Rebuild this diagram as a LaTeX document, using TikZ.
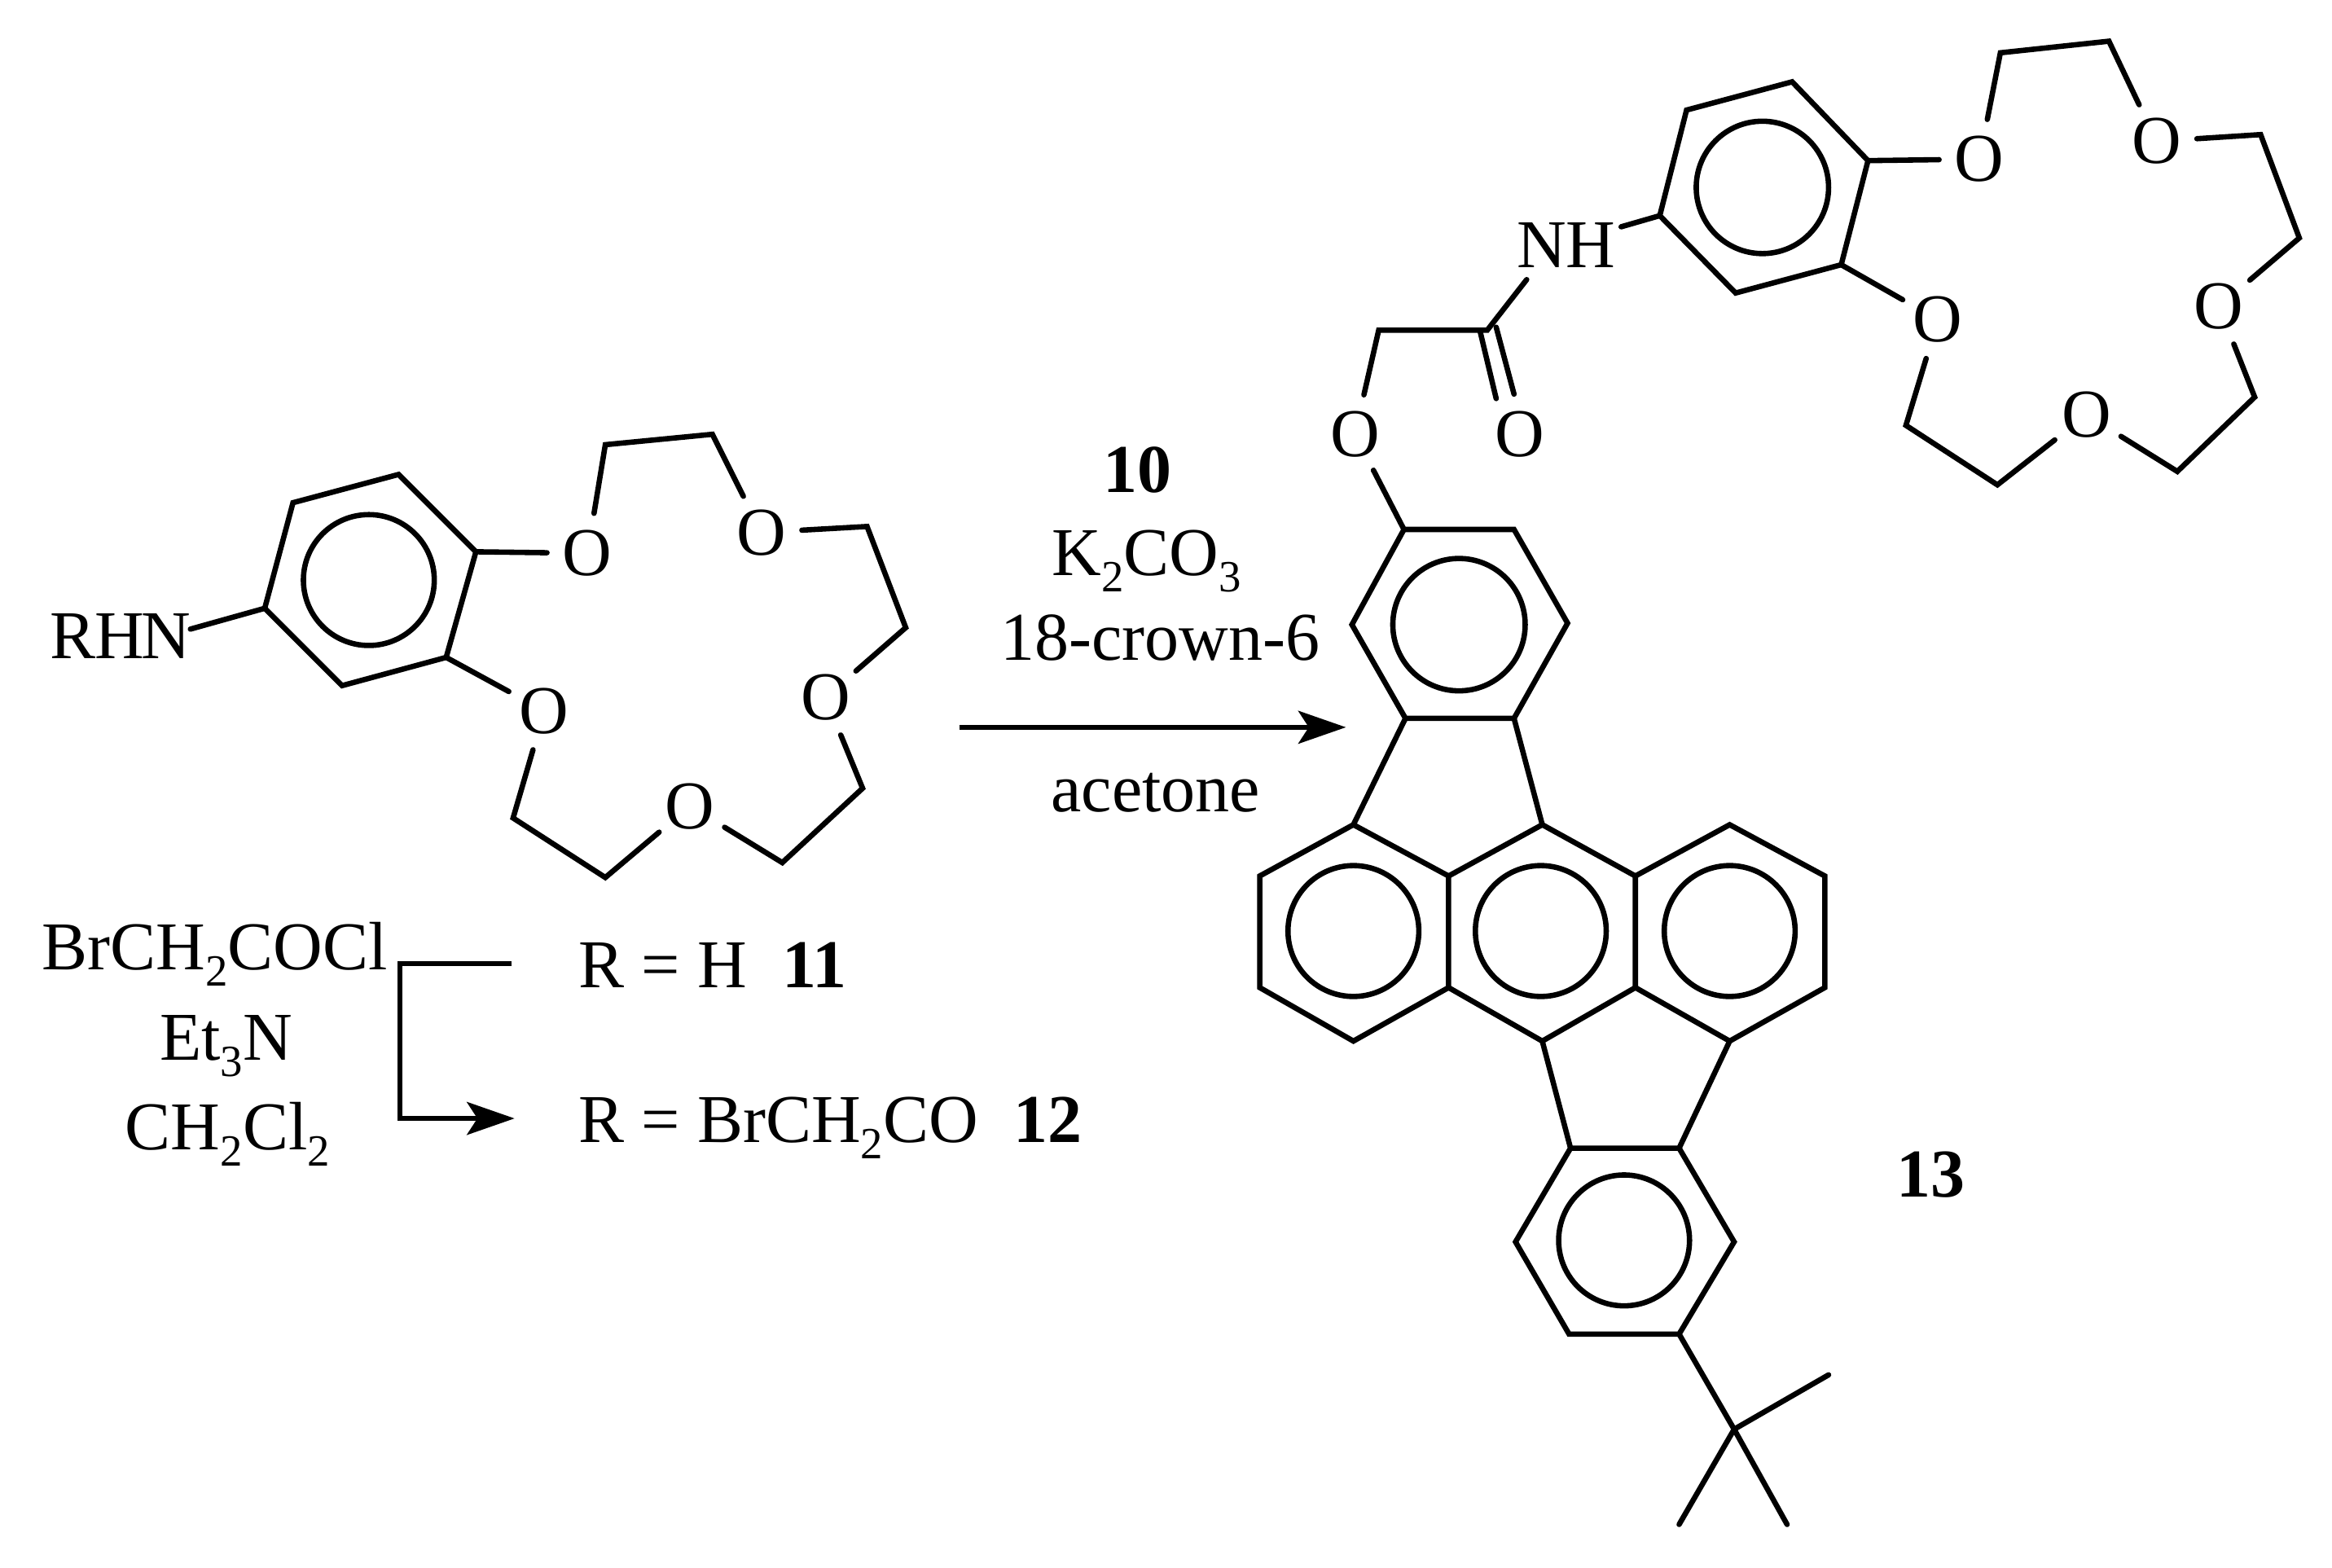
\documentclass[tikz,border=0pt]{standalone}
\usepackage{fontspec}
\setmainfont{Liberation Serif}
\usetikzlibrary{arrows.meta}
\newcommand{\sbs}[1]{\raisebox{-11pt}{\fontsize{30}{30}\selectfont #1}}
\tikzset{
  bond/.style={line width=3.6pt,line cap=round,line join=miter,black},
  aromatic/.style={line width=3.6pt,black},
  lbl/.style={font=\fontsize{46}{50}\selectfont,inner sep=0pt,anchor=base,black},
  oxy/.style={circle,inner sep=0pt,minimum size=54pt,font=\fontsize{46}{50}\selectfont,black},
  rxn/.style={line width=3.6pt,line join=miter,black,-{Stealth[length=32pt,width=22pt,inset=7pt]}}
}
\begin{document}
\begin{tikzpicture}[x=1pt,y=-1pt]
\useasboundingbox (0,0) rectangle (1568,1054);
% --- left benzo crown ---
\coordinate (a1) at (268,319);
\coordinate (a2) at (197,338);
\coordinate (a3) at (178,409);
\coordinate (a4) at (230,461);
\coordinate (a5) at (300,442);
\coordinate (a6) at (320,371);
\draw[bond] (a1)--(a2)--(a3)--(a4)--(a5)--(a6)--cycle;
\coordinate (ac) at (248,390);
\draw[aromatic] (ac) circle[radius=44];
\node[lbl] (rhn) at (81,443) {R\kern-1ptH\kern-2ptN};
\coordinate (rhne) at (128,423);
\draw[bond] (a3)--(rhne);
\node[oxy] (ao1) at (395,372) {O};
\node[oxy] (ao2) at (512,358) {O};
\node[oxy] (ao3) at (555,469) {O};
\node[oxy] (ao4) at (464,542) {O};
\node[oxy] (ao5) at (366,478) {O};
\coordinate (ab1) at (407,299);
\coordinate (ab2) at (479,292);
\coordinate (ab3) at (583,354);
\coordinate (ab4) at (609,422);
\coordinate (ab5) at (580,530);
\coordinate (ab6) at (526,580);
\coordinate (ab7) at (407,590);
\coordinate (ab8) at (345,550);
\draw[bond] (a6)--(ao1);
\draw[bond] (a5)--(ao5);
\draw[bond] (ao1)--(ab1)--(ab2)--(ao2);
\draw[bond] (ao2)--(ab3)--(ab4)--(ao3);
\draw[bond] (ao3)--(ab5)--(ab6)--(ao4);
\draw[bond] (ao4)--(ab7)--(ab8)--(ao5);
% --- left reagents and products ---
\node[lbl,anchor=base west] (brc) at (28,652) {BrCH\sbs{2}COCl};
\node[lbl] (et) at (152,713) {Et\sbs{3}N};
\node[lbl] (dcm) at (153,773) {CH\sbs{2}Cl\sbs{2}};
\node[lbl,anchor=base west] (p11) at (389,664) {R = H\hspace{24pt}\textbf{11}};
\node[lbl,anchor=base west] (p12) at (389,768) {R = BrCH\sbs{2}CO\hspace{24pt}\textbf{12}};
\coordinate (br1) at (344,648);
\coordinate (br2) at (269,648);
\coordinate (br3) at (269,752);
\coordinate (br4) at (346,752);
\draw[rxn] (br1)--(br2)--(br3)--(br4);
% --- main arrow ---
\coordinate (ma1) at (645,489);
\coordinate (ma2) at (905,489);
\draw[rxn] (ma1)--(ma2);
\node[lbl] (r10) at (765,331) {\textbf{10}};
\node[lbl] (rk) at (771,387) {K\sbs{2}CO\sbs{3}};
\node[lbl] (rcr) at (780,444) {18-crown-6};
\node[lbl] (rac) at (777,546) {acetone};
\node[lbl] (n13) at (1298,805) {\textbf{13}};
% --- top benzo crown ---
\coordinate (b1) at (1205,55);
\coordinate (b2) at (1134,74);
\coordinate (b3) at (1116,145);
\coordinate (b4) at (1167,197);
\coordinate (b5) at (1238,178);
\coordinate (b6) at (1256,108);
\draw[bond] (b1)--(b2)--(b3)--(b4)--(b5)--(b6)--cycle;
\coordinate (bc) at (1185,126);
\draw[aromatic] (bc) circle[radius=44.5];
\node[oxy] (bo1) at (1331,107) {O};
\node[oxy] (bo2) at (1450,95) {O};
\node[oxy] (bo3) at (1492,206) {O};
\node[oxy] (bo4) at (1403,279) {O};
\node[oxy] (bo5) at (1303,215) {O};
\coordinate (bb1) at (1345,35.5);
\coordinate (bb2) at (1418,27.7);
\coordinate (bb3) at (1520,90.5);
\coordinate (bb4) at (1546,160);
\coordinate (bb5) at (1516,267);
\coordinate (bb6) at (1464,317);
\coordinate (bb7) at (1343,326);
\coordinate (bb8) at (1281.5,286);
\draw[bond] (b6)--(bo1);
\draw[bond] (b5)--(bo5);
\draw[bond] (bo1)--(bb1)--(bb2)--(bo2);
\draw[bond] (bo2)--(bb3)--(bb4)--(bo3);
\draw[bond] (bo3)--(bb5)--(bb6)--(bo4);
\draw[bond] (bo4)--(bb7)--(bb8)--(bo5);
% --- linker ---
\node[lbl] (nh) at (1053,180) {NH};
\coordinate (nhr) at (1090,152.5);
\coordinate (nhb) at (1026.5,188);
\coordinate (cco) at (1000,222);
\coordinate (cch) at (927,222);
\node[oxy] (lo) at (911,292) {O};
\node[oxy] (co) at (1022,292) {O};
\coordinate (d1a) at (995,222);
\coordinate (d1b) at (1006,268);
\coordinate (d2a) at (1006,220);
\coordinate (d2b) at (1018,265);
\draw[bond] (b3)--(nhr);
\draw[bond] (nhb)--(cco)--(cch)--(lo);
\draw[bond] (d1a)--(d1b);
\draw[bond] (d2a)--(d2b);
% --- upper benzene of fused core ---
\coordinate (c1) at (944,356);
\coordinate (c2) at (1018,356);
\coordinate (c3) at (1054,419);
\coordinate (c4) at (1018,483);
\coordinate (c5) at (945,483);
\coordinate (c6) at (909,420);
\draw[bond] (c1)--(c2)--(c3)--(c4)--(c5)--(c6)--cycle;
\draw[bond] (lo)--(c1);
\coordinate (cc) at (981,420);
\draw[aromatic] (cc) circle[radius=44.5];
% --- anthracene-like core ---
\coordinate (e1) at (910,554.5);
\coordinate (e2) at (974,589);
\coordinate (e3) at (974,664);
\coordinate (e4) at (910,700);
\coordinate (e5) at (847,664);
\coordinate (e6) at (847,589);
\draw[bond] (e1)--(e2)--(e3)--(e4)--(e5)--(e6)--cycle;
\coordinate (f1) at (1037,554.5);
\coordinate (f2) at (1099.6,589);
\coordinate (f3) at (1099.6,664);
\coordinate (f4) at (1037,700);
\draw[bond] (e2)--(f1)--(f2)--(f3)--(f4)--(e3);
\coordinate (g1) at (1163,554.5);
\coordinate (g2) at (1227,589);
\coordinate (g3) at (1227,664);
\coordinate (g4) at (1163,700);
\draw[bond] (f2)--(g1)--(g2)--(g3)--(g4)--(f3);
\coordinate (ec) at (910,626);
\coordinate (fc) at (1036,626);
\coordinate (gc) at (1163,626);
\draw[aromatic] (ec) circle[radius=44];
\draw[aromatic] (fc) circle[radius=44];
\draw[aromatic] (gc) circle[radius=44];
\draw[bond] (c5)--(e1);
\draw[bond] (c4)--(f1);
% --- lower benzene and t-butyl ---
\coordinate (h1) at (1056,772);
\coordinate (h2) at (1129,772);
\coordinate (h3) at (1166,835);
\coordinate (h4) at (1129,897);
\coordinate (h5) at (1055,897);
\coordinate (h6) at (1019,835);
\draw[bond] (h1)--(h2)--(h3)--(h4)--(h5)--(h6)--cycle;
\coordinate (hc) at (1092,834);
\draw[aromatic] (hc) circle[radius=44];
\draw[bond] (f4)--(h1);
\draw[bond] (g4)--(h2);
\coordinate (t0) at (1166,961);
\coordinate (t1) at (1229.5,924.4);
\coordinate (t2) at (1201.6,1025);
\coordinate (t3) at (1129,1025);
\draw[bond] (h4)--(t0);
\draw[bond] (t0)--(t1);
\draw[bond] (t0)--(t2);
\draw[bond] (t0)--(t3);
\end{tikzpicture}
\end{document}
